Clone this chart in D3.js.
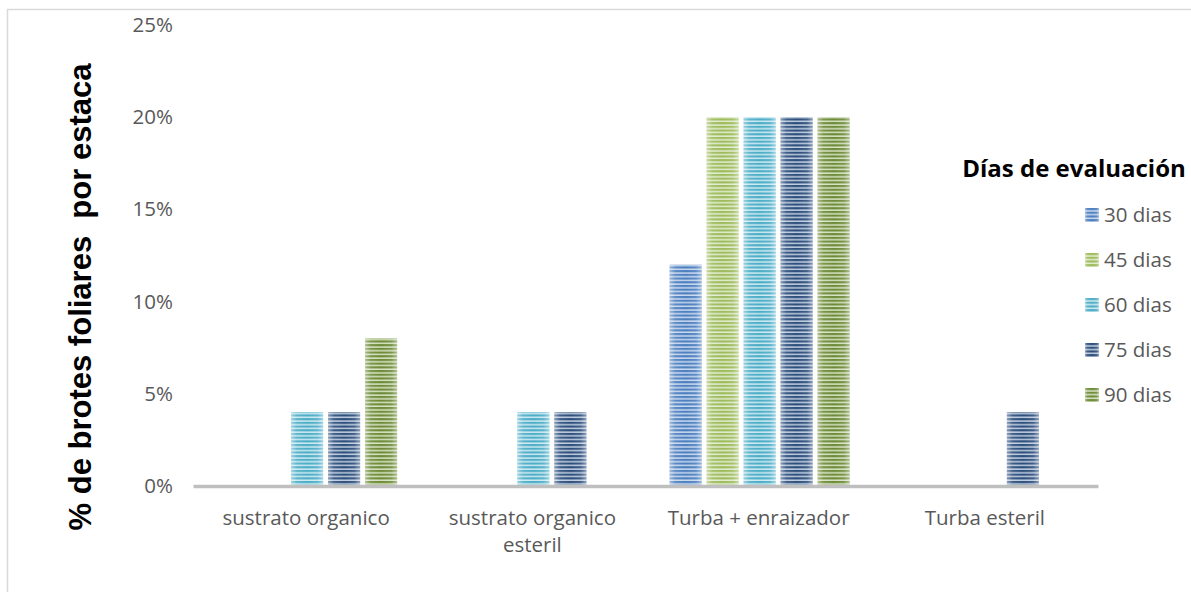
<!DOCTYPE html>
<html>
<head>
<meta charset="utf-8">
<script src="https://cdn.jsdelivr.net/npm/d3@7/dist/d3.min.js"></script>
<style>
  html, body { margin: 0; padding: 0; background: #fff; }
  svg { display: block; }
</style>
</head>
<body>
<svg id="chart" width="1191" height="592"></svg>
<script>
// Substrates tested and evaluation days
const categories = ["sustrato organico", "sustrato organico esteril", "Turba + enraizador", "Turba esteril"];
const seriesNames = ["30 dias", "45 dias", "60 dias", "75 dias", "90 dias"];
// Share of cuttings with leaf shoots, one array per evaluation day (order follows categories)
const dias30 = [0, 0, 0.12, 0];
const dias45 = [0, 0, 0.20, 0];
const dias60 = [0.04, 0.04, 0.20, 0];
const dias75 = [0.04, 0.04, 0.20, 0.04];
const dias90 = [0.08, 0, 0.20, 0];
const yTicks = [0, 0.05, 0.10, 0.15, 0.20, 0.25];

const seriesValues = [dias30, dias45, dias60, dias75, dias90];
const dark = ["#4a7ebf", "#9bbb59", "#4bacc6", "#2b4d7a", "#6b8a35"];
const light = ["#c9d8ee", "#e3ecd0", "#cdeaf2", "#bfcde0", "#d8e2c4"];

const svg = d3.select("#chart");
const defs = svg.append("defs");

// Striped fills, one per series
seriesNames.forEach((s, i) => {
  const p = defs.append("pattern")
    .attr("id", "stripe" + i)
    .attr("patternUnits", "userSpaceOnUse")
    .attr("width", 8).attr("height", 3.7);
  p.append("rect").attr("width", 8).attr("height", 3.7).attr("fill", light[i]);
  p.append("rect").attr("y", 0).attr("width", 8).attr("height", 2.2).attr("fill", dark[i]);
});
// Soft lighter edges on each bar
const sheen = defs.append("linearGradient").attr("id", "sheen")
  .attr("x1", "0").attr("x2", "1").attr("y1", "0").attr("y2", "0");
[[0, 0.45], [0.18, 0.1], [0.5, 0], [0.82, 0.1], [1, 0.45]].forEach(([o, a]) =>
  sheen.append("stop").attr("offset", o).attr("stop-color", "#fff").attr("stop-opacity", a));

// Outer frame
svg.append("rect")
  .attr("x", 7.5).attr("y", 9.5).attr("width", 1200).attr("height", 600)
  .attr("fill", "none").attr("stroke", "#d9d9d9").attr("stroke-width", 1.5);

const x0 = d3.scaleBand().domain(categories).range([193, 1098]);
const x1 = d3.scaleBand().domain(seriesNames).range([0, 180]).paddingInner(0.135);
const y = d3.scaleLinear().domain([0, 0.25]).range([486, 25]);

const textFont = "'Open Sans', 'Noto Sans', sans-serif";

// Y tick labels
const yAxis = d3.axisLeft(y).tickValues(yTicks).tickFormat(d3.format(".0%")).tickSize(0).tickPadding(0);
const gy = svg.append("g").attr("transform", "translate(173,0)").call(yAxis);
gy.select(".domain").remove();
gy.selectAll("text")
  .attr("fill", "#595959").attr("font-size", 20.5).attr("font-family", textFont);

// Bars
const groups = svg.append("g").selectAll("g")
  .data(categories)
  .join("g")
  .attr("transform", d => `translate(${x0(d) + (x0.bandwidth() - 180) / 2 + 1},0)`);

groups.each(function (cat, ci) {
  const g = d3.select(this);
  seriesNames.forEach((s, si) => {
    const v = seriesValues[si][ci];
    if (!v) return;
    const bx = x1(s), by = y(v), bw = x1.bandwidth(), bh = y(0) - y(v);
    g.append("rect").attr("x", bx).attr("y", by).attr("width", bw).attr("height", bh)
      .attr("fill", `url(#stripe${si})`);
    g.append("rect").attr("x", bx).attr("y", by).attr("width", bw).attr("height", bh)
      .attr("fill", "url(#sheen)");
  });
});

// Category axis
const xAxis = d3.axisBottom(x0).tickSize(0).tickPadding(0);
const gx = svg.append("g").attr("transform", "translate(0,486)").call(xAxis);
gx.select(".domain").attr("stroke", "#bfbfbf").attr("stroke-width", 3.5);
gx.selectAll(".tick text").remove();
gx.selectAll(".tick").each(function (d) {
  const lines = d === "sustrato organico esteril" ? ["sustrato organico", "esteril"] : [d];
  const t = d3.select(this).append("text")
    .attr("text-anchor", "middle").attr("fill", "#595959")
    .attr("font-size", 20.5).attr("font-family", textFont);
  lines.forEach((l, i) => t.append("tspan").attr("x", 0).attr("y", 39 + i * 27).text(l));
});

// Y axis title
svg.append("text")
  .attr("transform", "translate(91,297) rotate(-90)")
  .attr("text-anchor", "middle")
  .attr("font-family", "'Liberation Sans', Arial, sans-serif")
  .attr("font-weight", "bold").attr("font-size", 31).attr("fill", "#000")
  .attr("xml:space", "preserve")
  .text("% de brotes foliares  por estaca");

// Legend
const legend = svg.append("g");
legend.append("text")
  .attr("x", 1074).attr("y", 177).attr("text-anchor", "middle")
  .attr("font-family", textFont).attr("font-weight", "bold").attr("font-size", 24)
  .attr("fill", "#000").text("Días de evaluación");
const items = legend.selectAll("g.item").data(seriesNames).join("g")
  .attr("class", "item")
  .attr("transform", (d, i) => `translate(1085,${208 + i * 45})`);
items.append("rect").attr("width", 14).attr("height", 14)
  .attr("fill", (d, i) => `url(#stripe${i})`);
items.append("rect").attr("width", 14).attr("height", 14).attr("fill", "url(#sheen)");
items.append("text").attr("x", 19).attr("y", 14)
  .attr("font-family", textFont).attr("font-size", 20.5).attr("fill", "#595959")
  .text(d => d);
</script>
</body>
</html>
